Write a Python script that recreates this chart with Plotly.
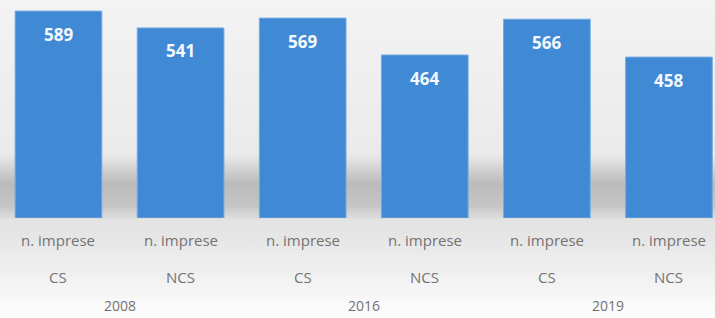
import base64
import plotly.graph_objects as go

years = ["2008", "2016", "2019"]
groups = ["CS", "NCS", "CS", "NCS", "CS", "NCS"]
measure = ["n. imprese"] * 6
values = [589, 541, 569, 464, 566, 458]
year_of_bar = ["2008", "2008", "2016", "2016", "2019", "2019"]

xpos = list(range(len(values)))

svg = """<svg xmlns='http://www.w3.org/2000/svg' width='715' height='318' viewBox='0 0 715 318' preserveAspectRatio='none'>
<defs>
<linearGradient id='g' x1='0' y1='0' x2='0' y2='1'>
<stop offset='0' stop-color='#f4f3f3'/>
<stop offset='0.45' stop-color='#ebebeb'/>
<stop offset='0.69' stop-color='#e3e3e3'/>
<stop offset='0.75' stop-color='#e6e6e6'/>
<stop offset='1' stop-color='#fdfdfd'/>
</linearGradient>
<linearGradient id='s' x1='0' y1='0' x2='0' y2='1'>
<stop offset='0' stop-color='#a8a8a8' stop-opacity='0'/>
<stop offset='0.45' stop-color='#a8a8a8' stop-opacity='0.7'/>
<stop offset='0.8' stop-color='#b4b4b4' stop-opacity='0.65'/>
<stop offset='1' stop-color='#d6d6d6' stop-opacity='0.45'/>
</linearGradient>
</defs>
<rect x='0' y='0' width='715' height='318' fill='url(#g)'/>
<rect x='0' y='155' width='715' height='64' fill='url(#s)'/>
</svg>"""
src = "data:image/svg+xml;base64," + base64.b64encode(svg.encode()).decode()

fig = go.Figure()
fig.add_trace(go.Bar(
    x=xpos, y=values, width=0.71,
    marker=dict(color="#4089d4", line=dict(color="#74abe2", width=1)),
    hoverinfo="skip",
))

ann = []
for i, v in enumerate(values):
    ann.append(dict(x=i, y=v, xref="x", yref="y", text=f"<b>{v}</b>", showarrow=False,
                    yshift=-23, yanchor="middle",
                    font=dict(family="Open Sans", size=17, color="#f4f9ff")))
    ann.append(dict(x=i, y=0.245, xref="x", yref="paper", text=measure[i], showarrow=False,
                    yanchor="middle", font=dict(family="Open Sans", size=15, color="#737373")))
    ann.append(dict(x=i, y=0.129, xref="x", yref="paper", text=groups[i], showarrow=False,
                    yanchor="middle", font=dict(family="Open Sans", size=15, color="#737373")))
for yr in years:
    idx = [i for i, y in enumerate(year_of_bar) if y == yr]
    ann.append(dict(x=sum(idx) / len(idx), y=0.004, xref="x", yref="paper", text=yr, showarrow=False,
                    yanchor="bottom", font=dict(family="Open Sans", size=14, color="#737373")))

fig.update_layout(
    width=715, height=318,
    margin=dict(l=0, r=0, t=0, b=0),
    paper_bgcolor="white", plot_bgcolor="rgba(0,0,0,0)",
    showlegend=False,
    xaxis=dict(range=[-0.479, 5.377], showticklabels=False, showgrid=False, zeroline=False, fixedrange=True),
    yaxis=dict(range=[0, 620.6], domain=[0.3145, 1], showticklabels=False, showgrid=False, zeroline=False),
    annotations=ann,
    images=[dict(source=src, xref="paper", yref="paper", x=0, y=1, sizex=1, sizey=1,
                 sizing="stretch", xanchor="left", yanchor="top", layer="below")],
)

fig.write_html("out.html", config={"displayModeBar": False},
               post_script="document.body.style.margin='0';document.body.style.overflow='hidden';")
